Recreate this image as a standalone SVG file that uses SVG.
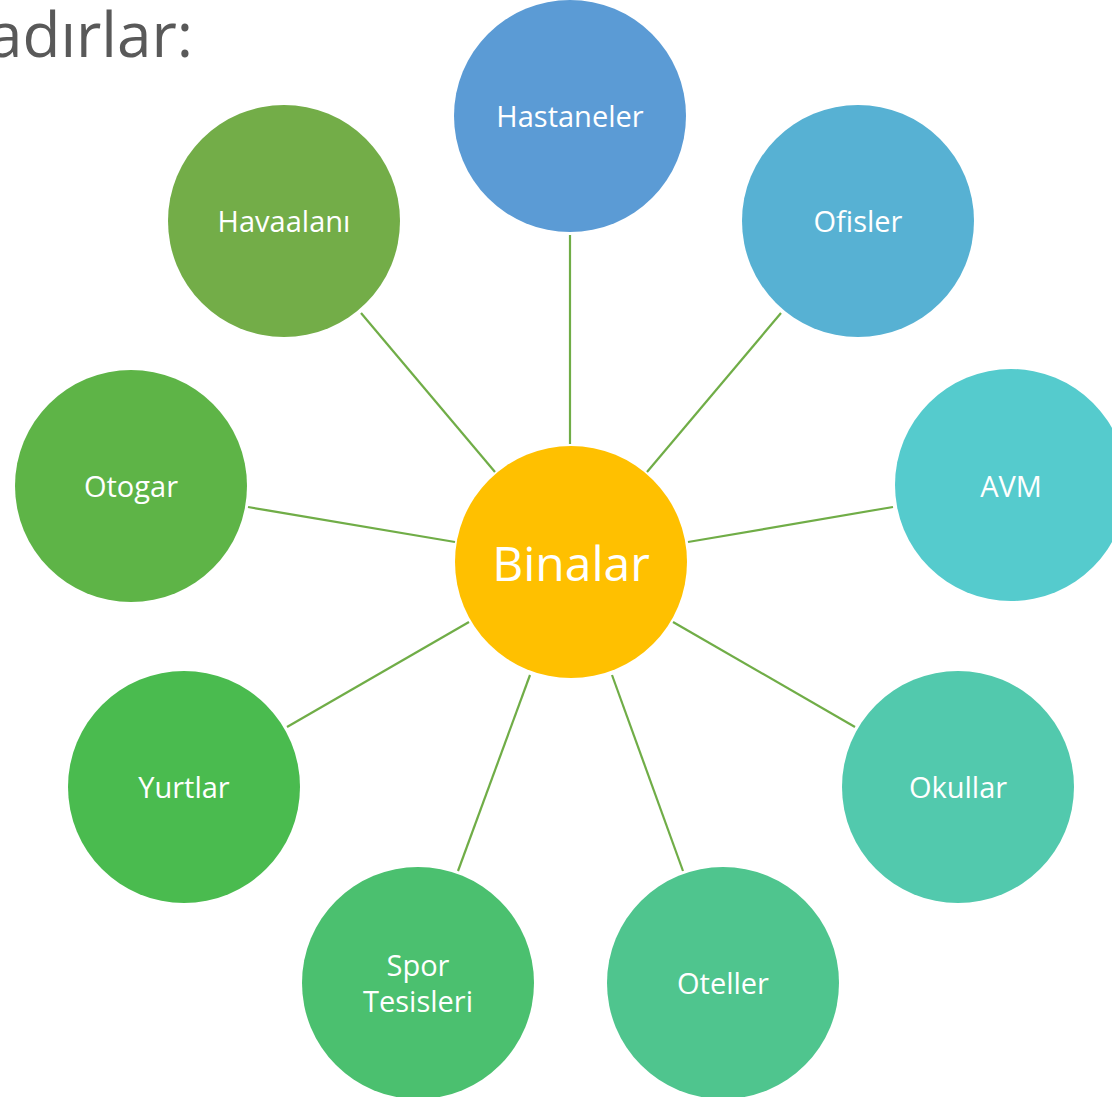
<svg xmlns="http://www.w3.org/2000/svg" width="1112" height="1097" viewBox="0 0 1112 1097">
<style>
.n text{fill:#fff;font-family:"Open Sans","Noto Sans",sans-serif;font-size:29px;text-anchor:middle;dominant-baseline:central}
.n text.big{font-size:48px}
.c line{stroke:#70AD47;stroke-width:2.2}
</style>
<rect width="1112" height="1097" fill="#fff"/>
<text x="-12" y="57" font-family="Open Sans, Noto Sans, sans-serif" font-size="62" fill="#595959">adırlar:</text>
<g class="c">
<line x1="570" y1="235" x2="570" y2="444"/>
<line x1="781" y1="313" x2="647" y2="472"/>
<line x1="893" y1="507" x2="688" y2="542"/>
<line x1="855" y1="727" x2="673" y2="622"/>
<line x1="683" y1="871" x2="612" y2="675"/>
<line x1="458" y1="871" x2="530" y2="675"/>
<line x1="287" y1="727" x2="469" y2="622"/>
<line x1="248" y1="507" x2="455" y2="542"/>
<line x1="361" y1="313" x2="495" y2="472"/>
</g>
<g id="binalar" class="n"><circle cx="571" cy="562" r="116" fill="#FFC000"/><text class="big" x="571" y="562">Binalar</text></g>
<g id="hastaneler" class="n"><circle cx="570" cy="116" r="116" fill="#5B9BD5"/><text x="570" y="115">Hastaneler</text></g>
<g id="ofisler" class="n"><circle cx="858" cy="221" r="116" fill="#57B1D3"/><text x="858" y="220">Ofisler</text></g>
<g id="avm" class="n"><circle cx="1011" cy="485" r="116" fill="#55CBCD"/><text x="1011" y="485">AVM</text></g>
<g id="okullar" class="n"><circle cx="958" cy="787" r="116" fill="#52C9AD"/><text x="958" y="786">Okullar</text></g>
<g id="oteller" class="n"><circle cx="723" cy="983" r="116" fill="#4FC58E"/><text x="723" y="982">Oteller</text></g>
<g id="spor" class="n"><circle cx="418" cy="983" r="116" fill="#4BC06F"/><text x="418" y="964">Spor</text><text x="418" y="1000">Tesisleri</text></g>
<g id="yurtlar" class="n"><circle cx="184" cy="787" r="116" fill="#4ABB4F"/><text x="184" y="786">Yurtlar</text></g>
<g id="otogar" class="n"><circle cx="131" cy="486" r="116" fill="#5EB447"/><text x="131" y="485">Otogar</text></g>
<g id="havaalani" class="n"><circle cx="284" cy="221" r="116" fill="#73AD48"/><text x="284" y="220">Havaalanı</text></g>
</svg>
